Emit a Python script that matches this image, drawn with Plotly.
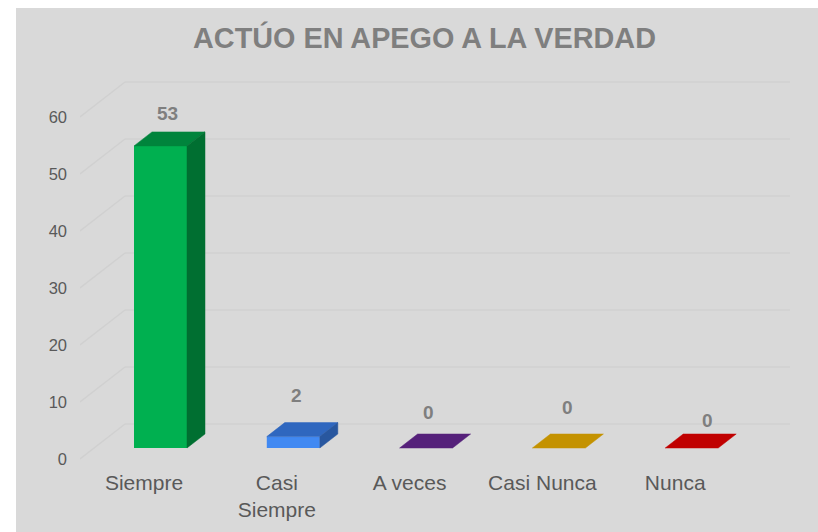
import plotly.graph_objects as go

# ---------------- data ----------------
categories = ["Siempre", "Casi Siempre", "A veces", "Casi Nunca", "Nunca"]
tick_labels = ["Siempre", "Casi<br>Siempre", "A veces", "Casi Nunca", "Nunca"]
values = [53, 2, 0, 0, 0]
y_ticks = [0, 10, 20, 30, 40, 50, 60]
title_text = "ACTÚO EN APEGO A LA VERDAD"

# ---------------- styles ----------------
front_colors = ["#00B050", "#4189F2", "#7030A0", "#FFC000", "#FF0000"]
top_colors = ["#00843C", "#2F67BF", "#55207A", "#C49200", "#C00000"]
side_colors = ["#006F31", "#28579F", "#441864", "#A07800", "#A00000"]
label_xshift = [-2.5, -5.5, -6.5, -0.5, 6.5]
label_yshift = [18, 27.5, 22, 27, 14]

W, H = 818, 532
L, R, T, B = 80, 18, 60, 68
PW = W - L - R
PH = H - T - B

# pixel geometry of the 3D projection
X0_PX = 160.5      # centre of first bar front face
STEP_PX = 132.8    # category spacing
Y0_PX = 448.0      # baseline of bar front faces
UNIT_PX = 5.7      # px per value unit
TICK0_PX = 459.0   # left wall front edge (value 0)
WALL0_PX = 424.0   # back wall (value 0)
BAR_W_PX = 53.0
DEPTH_X_PX = 18.0
DEPTH_Y_PX = 14.0
WALL_FRONT_X_PX = 80.0
WALL_BACK_X_PX = 125.0
WALL_RIGHT_X_PX = 790.0
LABEL_SHIFT_PX = 16.5


def dxu(px):
    return px / STEP_PX


def dyu(px):
    return px / UNIT_PX


def px_to_x(px):
    return (px - X0_PX) / STEP_PX


xr = [px_to_x(L), px_to_x(W - R)]
yr = [(Y0_PX - (H - B)) / UNIT_PX, (Y0_PX - T) / UNIT_PX]
y2r = [(TICK0_PX - (H - B)) / UNIT_PX, (TICK0_PX - T) / UNIT_PX]
x2r = [xr[0] + dxu(LABEL_SHIFT_PX), xr[1] + dxu(LABEL_SHIFT_PX)]

bw = dxu(BAR_W_PX)
ddx = dxu(DEPTH_X_PX)
ddy = dyu(DEPTH_Y_PX)

fig = go.Figure()

# front faces
fig.add_trace(go.Bar(
    x=list(range(len(categories))), y=values, width=bw,
    marker=dict(color=front_colors, line=dict(width=0)),
    hoverinfo="skip", showlegend=False,
))

# top and side faces
for i, v in enumerate(values):
    xl, xrr = i - bw / 2, i + bw / 2
    fig.add_trace(go.Scatter(
        x=[xl, xrr, xrr + ddx, xl + ddx, xl],
        y=[v, v, v + ddy, v + ddy, v],
        mode="lines", fill="toself", fillcolor=top_colors[i],
        line=dict(color=top_colors[i], width=0.5),
        hoverinfo="skip", showlegend=False,
    ))
    if v > 0:
        fig.add_trace(go.Scatter(
            x=[xrr, xrr + ddx, xrr + ddx, xrr, xrr],
            y=[0, ddy, v + ddy, v, 0],
            mode="lines", fill="toself", fillcolor=side_colors[i],
            line=dict(color=side_colors[i], width=0.5),
            hoverinfo="skip", showlegend=False,
        ))

# dummy traces so the label axes get drawn
fig.add_trace(go.Scatter(x=[0], y=[0], xaxis="x2", yaxis="y", mode="markers",
                         marker=dict(opacity=0), hoverinfo="skip", showlegend=False))
fig.add_trace(go.Scatter(x=[0], y=[0], xaxis="x", yaxis="y2", mode="markers",
                         marker=dict(opacity=0), hoverinfo="skip", showlegend=False))

# gridlines (left wall diagonal + back wall horizontal)
shapes = []
grid_color = "#D0D0D0"
for t in y_ticks:
    y_front = t + (Y0_PX - TICK0_PX) / UNIT_PX
    y_back = t + (Y0_PX - WALL0_PX) / UNIT_PX
    shapes.append(dict(type="line", xref="x", yref="y", layer="below",
                       x0=px_to_x(WALL_FRONT_X_PX), y0=y_front,
                       x1=px_to_x(WALL_BACK_X_PX), y1=y_back,
                       line=dict(color=grid_color, width=1.4)))
    shapes.append(dict(type="line", xref="x", yref="y", layer="below",
                       x0=px_to_x(WALL_BACK_X_PX), y0=y_back,
                       x1=px_to_x(WALL_RIGHT_X_PX), y1=y_back,
                       line=dict(color=grid_color, width=1.4)))

# white margins of the image (left and top strips)
def pxx(px):
    return (px - L) / PW


def pxy(py):
    return (H - B - py) / PH


shapes.append(dict(type="rect", xref="paper", yref="paper", layer="above",
                   x0=pxx(0), x1=pxx(16), y0=pxy(H), y1=pxy(0),
                   fillcolor="white", line=dict(width=0)))
shapes.append(dict(type="rect", xref="paper", yref="paper", layer="above",
                   x0=pxx(0), x1=pxx(W), y0=pxy(8), y1=pxy(0),
                   fillcolor="white", line=dict(width=0)))

# data labels
annotations = []
for i, v in enumerate(values):
    annotations.append(dict(
        x=i + ddx / 2, y=v + ddy, xref="x", yref="y", text=str(v),
        showarrow=False, xanchor="center", yanchor="middle",
        xshift=label_xshift[i], yshift=label_yshift[i],
        font=dict(family="Liberation Sans, Arial", size=19, color="#7F7F7F", weight="bold"),
    ))

font_family = "Liberation Sans, Arial, sans-serif"

fig.update_layout(
    width=W, height=H,
    margin=dict(l=L, r=R, t=T, b=B, pad=0, autoexpand=False),
    paper_bgcolor="#D9D9D9", plot_bgcolor="#D9D9D9",
    showlegend=False,
    title=dict(text="<b>" + title_text + "</b>", x=424.5 / W, xanchor="center",
               y=1 - 38 / H, yanchor="middle", xref="container", yref="container",
               font=dict(family=font_family, size=28.8, color="#7F7F7F")),
    xaxis=dict(range=xr, showgrid=False, zeroline=False, showticklabels=False,
               showline=False, fixedrange=True),
    xaxis2=dict(range=x2r, overlaying="x", anchor="y", side="bottom",
                tickmode="array", tickvals=list(range(len(categories))), ticktext=tick_labels,
                showgrid=False, zeroline=False, showline=False, ticks="",
                ticklabelstandoff=4,
                tickfont=dict(family=font_family, size=21, color="#595959"), fixedrange=True),
    yaxis=dict(range=yr, showgrid=False, zeroline=False, showticklabels=False,
               showline=False, fixedrange=True),
    yaxis2=dict(range=y2r, overlaying="y", anchor="x", side="left",
                tickmode="array", tickvals=y_ticks, showgrid=False, zeroline=False,
                showline=False, ticks="", ticklabelstandoff=12,
                tickfont=dict(family=font_family, size=16.5, color="#595959"), fixedrange=True),
    shapes=shapes,
    annotations=annotations,
    hovermode=False,
)

fig.write_html("out.html", config={"displayModeBar": False},
               post_script="document.body.style.margin='0';document.body.style.overflow='hidden';")
